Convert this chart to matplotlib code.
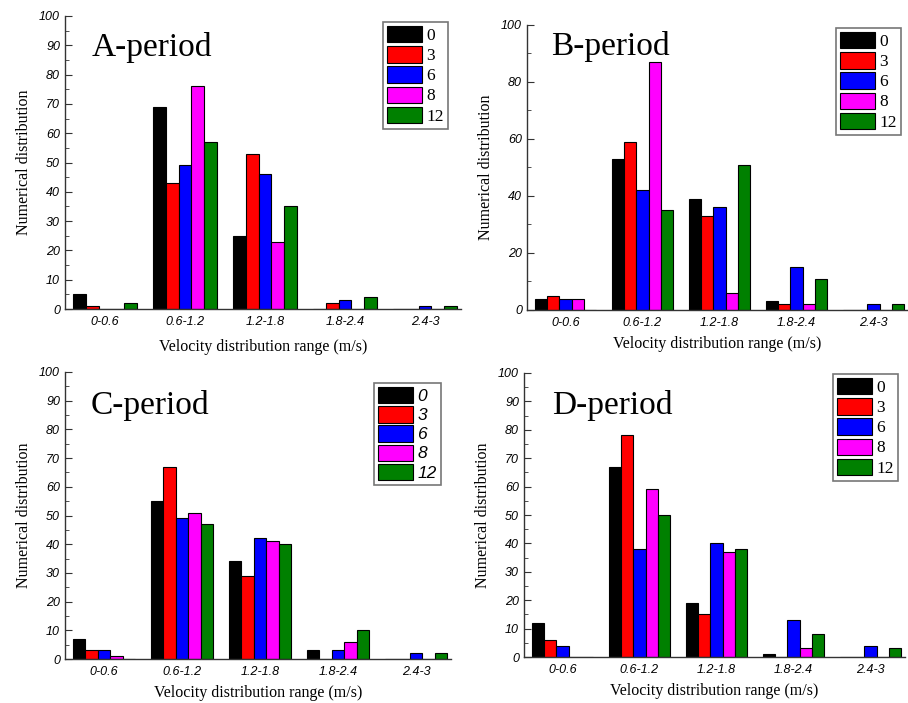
import matplotlib.pyplot as plt
import numpy as np
from matplotlib.ticker import MultipleLocator

ranges = ['0-0.6', '0.6-1.2', '1.2-1.8', '1.8-2.4', '2.4-3']
series = ['0', '3', '6', '8', '12']
colors = ['#000000', '#ff0000', '#0000ff', '#ff00ff', '#008000']

# counts per series (rows) for each velocity range (columns)
a_period = [[5, 69, 25, 0, 0],
            [1, 43, 53, 2, 0],
            [0, 49, 46, 3, 1],
            [0, 76, 23, 0, 0],
            [2, 57, 35, 4, 1]]
b_period = [[4, 53, 39, 3, 0],
            [5, 59, 33, 2, 0],
            [4, 42, 36, 15, 2],
            [4, 87, 6, 2, 0],
            [0, 35, 51, 11, 2]]
c_period = [[7, 55, 34, 3, 0],
            [3, 67, 29, 0, 0],
            [3, 49, 42, 3, 2],
            [1, 51, 41, 6, 0],
            [0, 47, 40, 10, 2]]
d_period = [[12, 67, 19, 1, 0],
            [6, 78, 15, 0, 0],
            [4, 38, 40, 13, 4],
            [0, 59, 37, 3, 0],
            [0, 50, 38, 8, 3]]

W, H = 908, 703
fig = plt.figure(figsize=(W / 100, H / 100), dpi=100)

# pixel layout: left, top, bottom, group spacing, title pos, legend box (x, y), ytick step
panels = [
    ('A-period', a_period, 65, 16, 309, 80, (0.068, 0.894), (383, 22), 10, False, 8),
    ('B-period', b_period, 527, 25, 310, 77, (0.063, 0.923), (836, 28), 20, False, 5),
    ('C-period', c_period, 65, 372, 659, 78, (0.067, 0.885), (374, 383), 10, True, 5),
    ('D-period', d_period, 524, 373, 657, 77, (0.073, 0.887), (833, 374), 10, False, 5),
]

x = np.arange(len(ranges))
bw = 0.16
serif = 'Liberation Serif'
sans = 'Liberation Sans'

for name, data, left, top, bottom, sp, tpos, lpos, step, ital_leg, xpad in panels:
    width = 4.95 * sp
    ax = fig.add_axes([left / W, 1 - bottom / H, width / W, (bottom - top) / H])
    for i, vals in enumerate(data):
        ax.bar(x + (i - 2) * bw, vals, bw, color=colors[i], edgecolor='black',
               linewidth=0.8, label=series[i])
    ax.set_xlim(-0.5, 4.45)
    ax.set_ylim(0, 100)
    ax.yaxis.set_major_locator(MultipleLocator(step))
    ax.yaxis.set_minor_locator(MultipleLocator(step / 2))
    ax.tick_params(axis='y', which='both', direction='in', labelsize=9, colors='#333333')
    ax.tick_params(axis='y', which='major', length=5)
    ax.tick_params(axis='y', which='minor', length=3)
    ax.tick_params(axis='x', length=0, labelsize=9, pad=5)
    ax.set_xticks(x)
    ax.set_xticklabels(ranges)
    for lab in ax.get_xticklabels() + ax.get_yticklabels():
        lab.set_fontfamily(sans)
        lab.set_fontstyle('italic')
        lab.set_color('black')
    for s in ['top', 'right']:
        ax.spines[s].set_visible(False)
    for s in ['left', 'bottom']:
        ax.spines[s].set_color('#333333')
        ax.spines[s].set_linewidth(1.0)
    ax.set_ylabel('Numerical distribution', family=serif, fontsize=11.5, labelpad=5)
    ax.set_xlabel('Velocity distribution range (m/s)', family=serif, fontsize=11.5, labelpad=xpad)
    ax.text(tpos[0], tpos[1], name, transform=ax.transAxes, family=serif,
            fontsize=24, ha='left', va='center')
    if ital_leg:
        prop = {'family': sans, 'style': 'italic', 'size': 12.5}
    else:
        prop = {'family': serif, 'size': 12.5}
    leg = ax.legend(loc='upper left', bbox_to_anchor=(lpos[0] / W, 1 - lpos[1] / H),
                    bbox_transform=fig.transFigure, prop=prop, handlelength=2.0,
                    handleheight=1.05, labelspacing=0.12, handletextpad=0.25,
                    borderpad=0.25, borderaxespad=0, fancybox=False, framealpha=1)
    leg.get_frame().set_edgecolor('#777777')
    leg.get_frame().set_linewidth(1.2)

fig.savefig('out.png', dpi=100)
